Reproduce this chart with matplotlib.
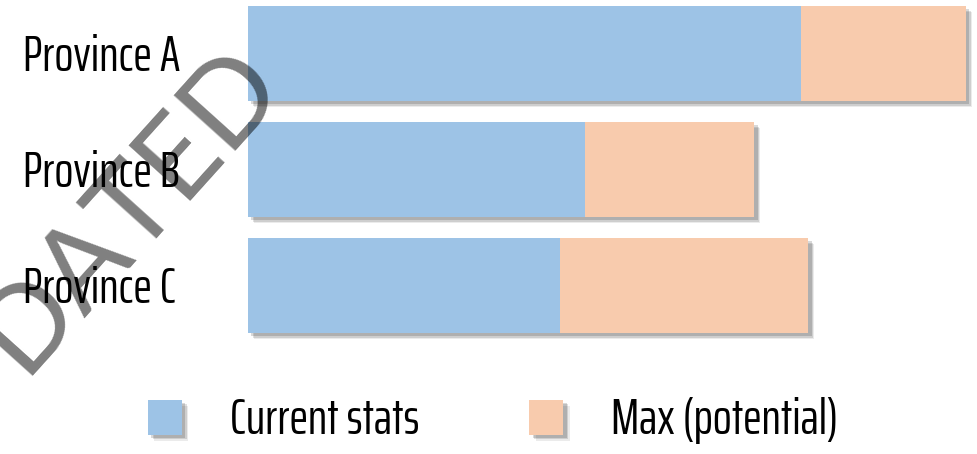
import matplotlib
matplotlib.use("Agg")
import matplotlib.pyplot as plt
from matplotlib import font_manager as fm
from matplotlib import transforms
from matplotlib.patches import Patch
import matplotlib.patheffects as pe

# ---- data ----
provinces = ["Province A", "Province B", "Province C"]
current_stats = [77, 47, 43.5]
extra_potential = [23, 23.5, 34.5]   # Max (potential) minus current
legend_labels = ["Current stats", "Max (potential)"]
watermark = "DATED"

blue = "#9DC3E6"
peach = "#F8CBAD"

# ---- font choice (condensed if available) ----
fl = fm.fontManager.ttflist
names = {f.name for f in fl}
font_kw = {"family": "DejaVu Sans"}
for cand in ["Saira ExtraCondensed", "Sofia Sans Extra Condensed", "Roboto Condensed",
             "Liberation Sans Narrow"]:
    if cand in names:
        font_kw = {"family": cand}
        break

W, H, DPI = 978, 454, 100
fig = plt.figure(figsize=(W / DPI, H / DPI), dpi=DPI)
fig.patch.set_facecolor("white")

# axes geometry in pixels
x0_px = 248
unit_px = 718 / 100.0
ax = fig.add_axes([x0_px / W, 1 - 343 / H, (W - x0_px) / W, 343 / H])
ax.set_xlim(0, (W - x0_px) / unit_px)
ax.set_ylim(2.497, -0.4595)
ax.axis("off")

shadow = [pe.SimplePatchShadow(offset=(4.5, -4.5), shadow_rgbFace="#000000", alpha=0.08),
          pe.SimplePatchShadow(offset=(3.5, -3.5), shadow_rgbFace="#000000", alpha=0.12),
          pe.SimplePatchShadow(offset=(2.5, -2.5), shadow_rgbFace="#000000", alpha=0.15),
          pe.Normal()]

ypos = list(range(len(provinces)))
b1 = ax.barh(ypos, current_stats, height=0.82, color=blue, linewidth=0)
b2 = ax.barh(ypos, extra_potential, left=current_stats, height=0.82, color=peach, linewidth=0)
for r in list(b1) + list(b2):
    r.set_path_effects(shadow)

fig.canvas.draw()
renderer = fig.canvas.get_renderer()


def fit_size(text, target_w, base=30):
    t = fig.text(0, 0, text, fontsize=base, **font_kw)
    w = t.get_window_extent(renderer).width
    t.remove()
    return base * target_w / w


lab_size = fit_size("Province A", 158)
cap_px = 0.70 * lab_size * DPI / 72
blend = transforms.blended_transform_factory(fig.transFigure, ax.transData)
for i, name in enumerate(provinces):
    tr = transforms.offset_copy(blend, fig=fig, x=0, y=-cap_px / 2 * 72 / DPI, units="points")
    fig.text(23 / W, i, name, transform=tr, fontsize=lab_size, ha="left",
             va="baseline", color="black", **font_kw)

# legend
leg_size = fit_size("Current stats", 190)
fpx = leg_size * DPI / 72
handles = [Patch(facecolor=blue, edgecolor="none", path_effects=shadow),
           Patch(facecolor=peach, edgecolor="none", path_effects=shadow)]
leg = fig.legend(handles, legend_labels, loc="center left",
                 bbox_to_anchor=(148 / W, 1 - 421 / H), ncol=2, frameon=False,
                 prop=fm.FontProperties(size=leg_size, **font_kw),
                 handlelength=34 / fpx, handleheight=35 / fpx,
                 handletextpad=(230 - 182) / fpx, columnspacing=(530 - 420) / fpx,
                 borderpad=0, borderaxespad=0)

# watermark
fig.text(130 / W, 1 - 208 / H, watermark, rotation=48, rotation_mode="anchor",
         ha="center", va="center", fontsize=84, color="black", alpha=0.5,
         family="Lato", fontweight="normal", zorder=10)

fig.savefig("out.png", dpi=DPI, facecolor="white")
